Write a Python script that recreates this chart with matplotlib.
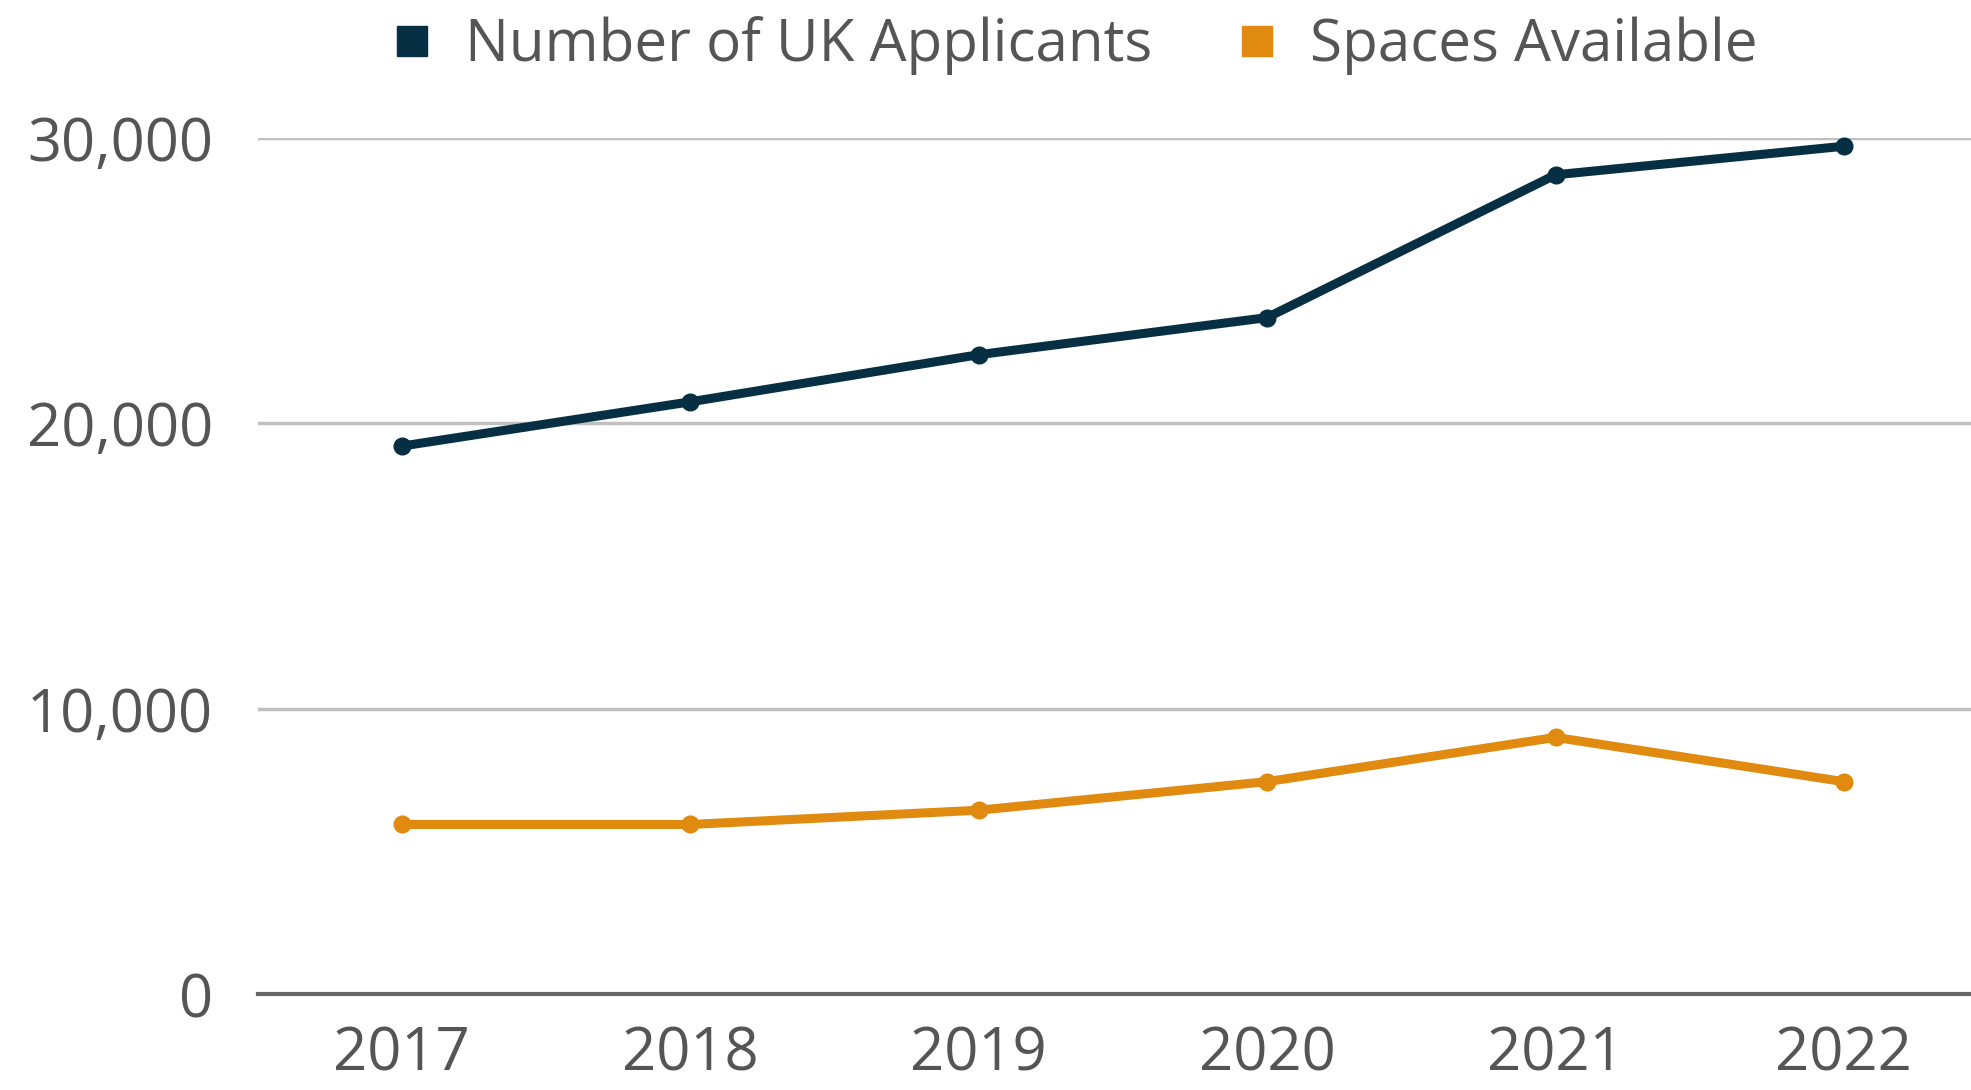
import matplotlib.pyplot as plt
from matplotlib.lines import Line2D
from matplotlib.ticker import FuncFormatter

plt.rcParams['font.family'] = ['Open Sans', 'DejaVu Sans']

years = ['2017', '2018', '2019', '2020', '2021', '2022']
applicants = [19200, 20750, 22400, 23700, 28700, 29700]
spaces = [5950, 5950, 6450, 7450, 9000, 7450]

navy = '#062f43'
orange = '#e08a10'
txt = '#555555'

fig = plt.figure(figsize=(19.71, 10.9), dpi=100)
ax = fig.add_axes([0.1307, 0.0877, 0.878, 0.786])

x = range(len(years))
ax.plot(x, applicants, color=navy, lw=6.5, marker='o', ms=12, clip_on=False, zorder=3)
ax.plot(x, spaces, color=orange, lw=6.5, marker='o', ms=12, clip_on=False, zorder=3)

ax.set_xlim(-0.5, 5.5)
ax.set_ylim(0, 30000)
ax.set_yticks([0, 10000, 20000, 30000])
ax.yaxis.set_major_formatter(FuncFormatter(lambda v, p: f'{int(v):,}'))
ax.set_xticks(list(x))
ax.set_xticklabels(years)

ax.grid(axis='y', color='#c0c0c0', lw=2.5)
ax.set_axisbelow(True)
for s in ['top', 'right', 'left']:
    ax.spines[s].set_visible(False)
ax.spines['bottom'].set_color('#666666')
ax.spines['bottom'].set_linewidth(3)
ax.tick_params(length=0, labelsize=43, colors=txt)
ax.tick_params(axis='x', pad=22)
ax.tick_params(axis='y', pad=32)

handles = [Line2D([], [], color=navy, marker='s', ls='', ms=22),
           Line2D([], [], color=orange, marker='s', ls='', ms=22)]
fig.legend(handles, ['Number of UK Applicants', 'Spaces Available'],
           loc='center', bbox_to_anchor=(0.543, 0.958), ncol=2, frameon=False,
           fontsize=42, labelcolor=txt, handlelength=1.0, handletextpad=0.4,
           columnspacing=1.3)

fig.savefig('out.png', dpi=100)
